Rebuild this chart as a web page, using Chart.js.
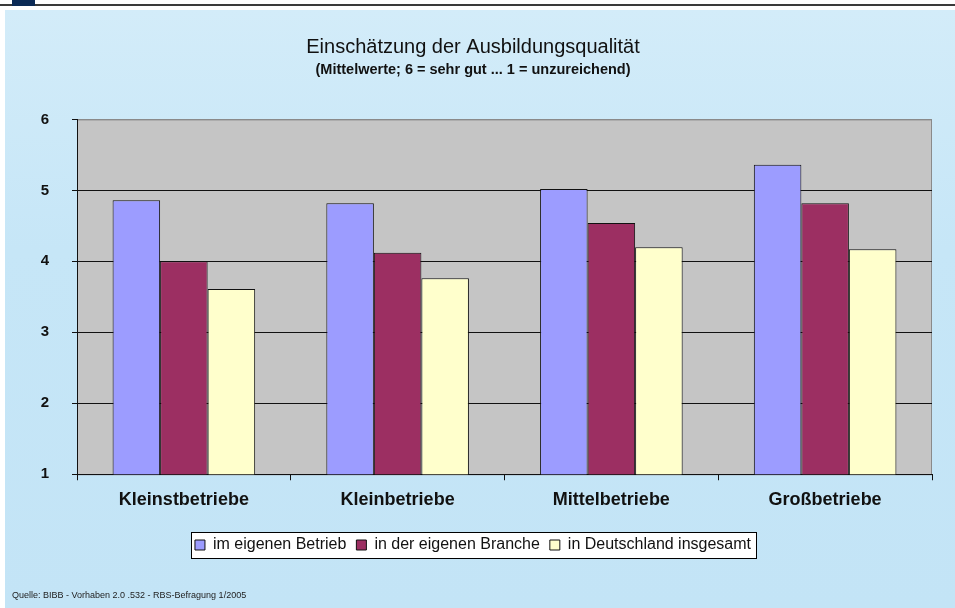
<!DOCTYPE html>
<html>
<head>
<meta charset="utf-8">
<script src="https://cdn.jsdelivr.net/npm/chart.js@4/dist/chart.umd.min.js"></script>
<style>
    html, body { margin: 0; padding: 0; background: #fff; }
    #page { position: relative; width: 955px; height: 608px; overflow: hidden; background: #fff; }
    #panel { position: absolute; left: 5px; top: 10px; right: 0; bottom: 0;
             background: linear-gradient(#d3ecf9, #c6e6f7 40%, #c3e4f6); }
    #topline { position: absolute; left: 0; top: 4px; width: 955px; height: 2px; background: #3a3a3a; }
    #topbox { position: absolute; left: 12px; top: 0; width: 23px; height: 6px; background: #0b2a55; }
    #chart { position: absolute; left: 0; top: 0; }
    #source { position: absolute; left: 12px; top: 590px; font: 9px "Liberation Sans", Arial, sans-serif; color: #222; }
</style>
</head>
<body>
<div id="page">
    <div id="panel"></div>
    <div id="topline"></div>
    <div id="topbox"></div>
    <canvas id="chart" width="955" height="608"></canvas>
    <div id="source">Quelle: BIBB - Vorhaben 2.0 .532 - RBS-Befragung 1/2005</div>
</div>
<script>
const categories = ['Kleinstbetriebe', 'Kleinbetriebe', 'Mittelbetriebe', 'Großbetriebe'];
const seriesNames = ['im eigenen Betrieb', 'in der eigenen Branche', 'in Deutschland insgesamt'];
const eigenerBetrieb = [4.86, 4.82, 5.02, 5.36];
const eigeneBranche = [4.00, 4.12, 4.54, 4.82];
const deutschland = [3.61, 3.76, 4.20, 4.17];
const yTicks = [1, 2, 3, 4, 5, 6];

const FONT = "'Liberation Sans', Arial, sans-serif";

/* graue Zeichenfläche und weisser Legendenrahmen */
const backgroundPlugin = {
    id: 'plotBackground',
    beforeDraw(chart) {
        const ctx = chart.ctx;
        const a = chart.chartArea;
        ctx.save();
        ctx.fillStyle = '#c5c5c5';
        ctx.fillRect(a.left, a.top, a.right - a.left, a.bottom - a.top);
        ctx.strokeStyle = '#8a8a8a';
        ctx.lineWidth = 1;
        ctx.strokeRect(a.left + 0.5, a.top + 0.5, a.right - a.left - 1, a.bottom - a.top);

        const boxes = chart.legend && chart.legend.legendHitBoxes;
        if (boxes && boxes.length) {
            const first = boxes[0];
            const last = boxes[boxes.length - 1];
            const left = Math.round(first.left - 4) + 0.5;
            const right = Math.round(last.left + last.width + 5) + 0.5;
            const top = Math.round(first.top - 5) + 0.5;
            const bottom = Math.round(first.top + first.height + 5) + 0.5;
            ctx.fillStyle = '#ffffff';
            ctx.fillRect(left, top, right - left, bottom - top);
            ctx.strokeStyle = '#000';
            ctx.strokeRect(left, top, right - left, bottom - top);
        }
        ctx.restore();
    }
};

const ctx = document.getElementById('chart');
new Chart(ctx.getContext('2d'), {
    type: 'bar',
    data: {
        labels: categories,
        datasets: [
            { label: seriesNames[0], data: eigenerBetrieb, backgroundColor: '#9c9cff' },
            { label: seriesNames[1], data: eigeneBranche, backgroundColor: '#9c2f62' },
            { label: seriesNames[2], data: deutschland, backgroundColor: '#ffffcc' }
        ].map(ds => Object.assign(ds, {
            borderColor: '#111',
            borderWidth: 1,
            categoryPercentage: 0.667,
            barPercentage: 1.0
        }))
    },
    options: {
        responsive: false,
        animation: false,
        devicePixelRatio: 1,
        layout: { padding: { left: 14, right: 23, top: 0, bottom: 45 } },
        scales: {
            x: {
                grid: {
                    display: true,
                    offset: true,
                    drawOnChartArea: false,
                    drawTicks: true,
                    tickLength: 6,
                    color: '#111'
                },
                border: { display: true, color: '#111', width: 1 },
                ticks: {
                    color: '#111',
                    padding: 9,
                    font: { family: FONT, size: 18, weight: 'bold' }
                },
                afterFit(scale) { scale.height = 52.75; }
            },
            y: {
                min: yTicks[0],
                max: yTicks[yTicks.length - 1],
                afterBuildTicks(scale) { scale.ticks = yTicks.map(v => ({ value: v })); },
                grid: {
                    color: c => (c.tick && c.tick.value === 6) ? '#8a8a8a' : '#111',
                    tickColor: '#111',
                    tickLength: 5,
                    lineWidth: 1
                },
                border: { display: true, color: '#111', width: 1 },
                ticks: {
                    color: '#111',
                    padding: 23,
                    font: { family: FONT, size: 15, weight: 'bold' }
                },
                afterFit(scale) { scale.width = 63; }
            }
        },
        plugins: {
            title: {
                display: true,
                text: 'Einschätzung der Ausbildungsqualität',
                color: '#111',
                font: { family: FONT, size: 20, weight: 'normal' },
                padding: { top: 35, bottom: 0 }
            },
            subtitle: {
                display: true,
                text: '(Mittelwerte; 6 = sehr gut ... 1 = unzureichend)',
                color: '#111',
                font: { family: FONT, size: 14.5, weight: 'bold' },
                padding: { top: 2, bottom: 41 }
            },
            legend: {
                position: 'bottom',
                labels: {
                    color: '#111',
                    boxWidth: 10,
                    boxHeight: 10,
                    padding: 10,
                    font: { family: FONT, size: 16 }
                }
            },
            tooltip: { enabled: false }
        }
    },
    plugins: [backgroundPlugin]
});
</script>
</body>
</html>
